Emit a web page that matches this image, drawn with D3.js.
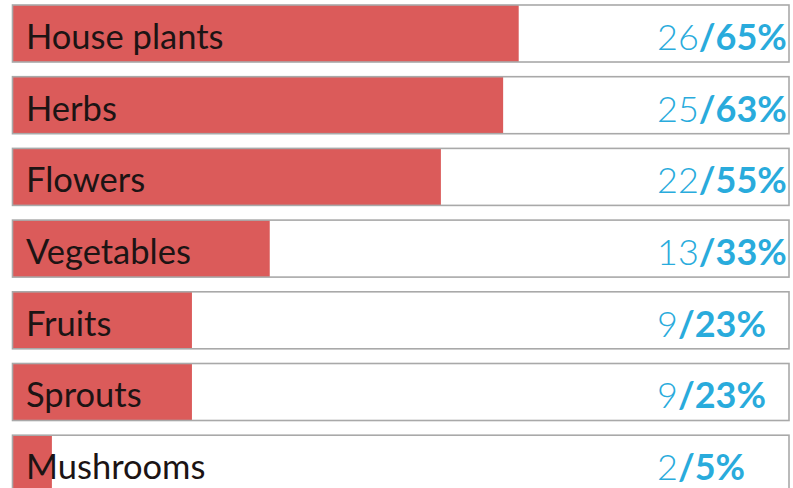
<!DOCTYPE html>
<html>
<head>
<meta charset="utf-8">
<script src="https://cdn.jsdelivr.net/npm/d3@7/dist/d3.min.js"></script>
<style>
  html, body { margin: 0; padding: 0; background: #ffffff; }
  svg { display: block; }
</style>
</head>
<body>
<svg id="chart" width="793" height="488"></svg>
<script>
const categories = ["House plants", "Herbs", "Flowers", "Vegetables", "Fruits", "Sprouts", "Mushrooms"];
const counts = [26, 25, 22, 13, 9, 9, 2];
const percents = [65, 63, 55, 33, 23, 23, 5];

const data = categories.map((c, i) => ({ category: c, count: counts[i], pct: percents[i] }));

const svg = d3.select("#chart");

const x = d3.scaleLinear().domain([0, 100]).range([13, 791]);
const y = d3.scaleBand().domain(categories).range([5, 492.2]).paddingInner(0.205).paddingOuter(0);

const rows = svg.selectAll("g.row").data(data).join("g").attr("class", "row");

// bar (percentage)
rows.append("rect")
  .attr("x", x(0))
  .attr("y", d => y(d.category))
  .attr("width", d => x(d.pct) - x(0))
  .attr("height", y.bandwidth())
  .attr("fill", "#db5b5a");

// box outline (100%)
rows.append("rect")
  .attr("x", x(0) - 0.5)
  .attr("y", d => y(d.category))
  .attr("width", x(100) - x(0) - 1.5)
  .attr("height", y.bandwidth())
  .attr("fill", "none")
  .attr("stroke", "#a9a9a9")
  .attr("stroke-width", 1.6);

// category label
rows.append("text")
  .attr("x", 26)
  .attr("y", d => y(d.category) + 44)
  .attr("font-family", "Lato, 'Open Sans', sans-serif")
  .attr("font-size", 34.5)
  .attr("fill", "#1c1414")
  .text(d => d.category);

// value label
const vt = rows.append("text")
  .attr("x", 657)
  .attr("y", d => y(d.category) + 45)
  .attr("font-family", "Lato, 'Open Sans', sans-serif")
  .attr("font-size", 36)
  .attr("fill", "#29abdc");
vt.append("tspan").attr("font-weight", 300).text(d => d.count);
vt.append("tspan").attr("font-weight", 700).text(d => "/" + d.pct + "%");
</script>
</body>
</html>
